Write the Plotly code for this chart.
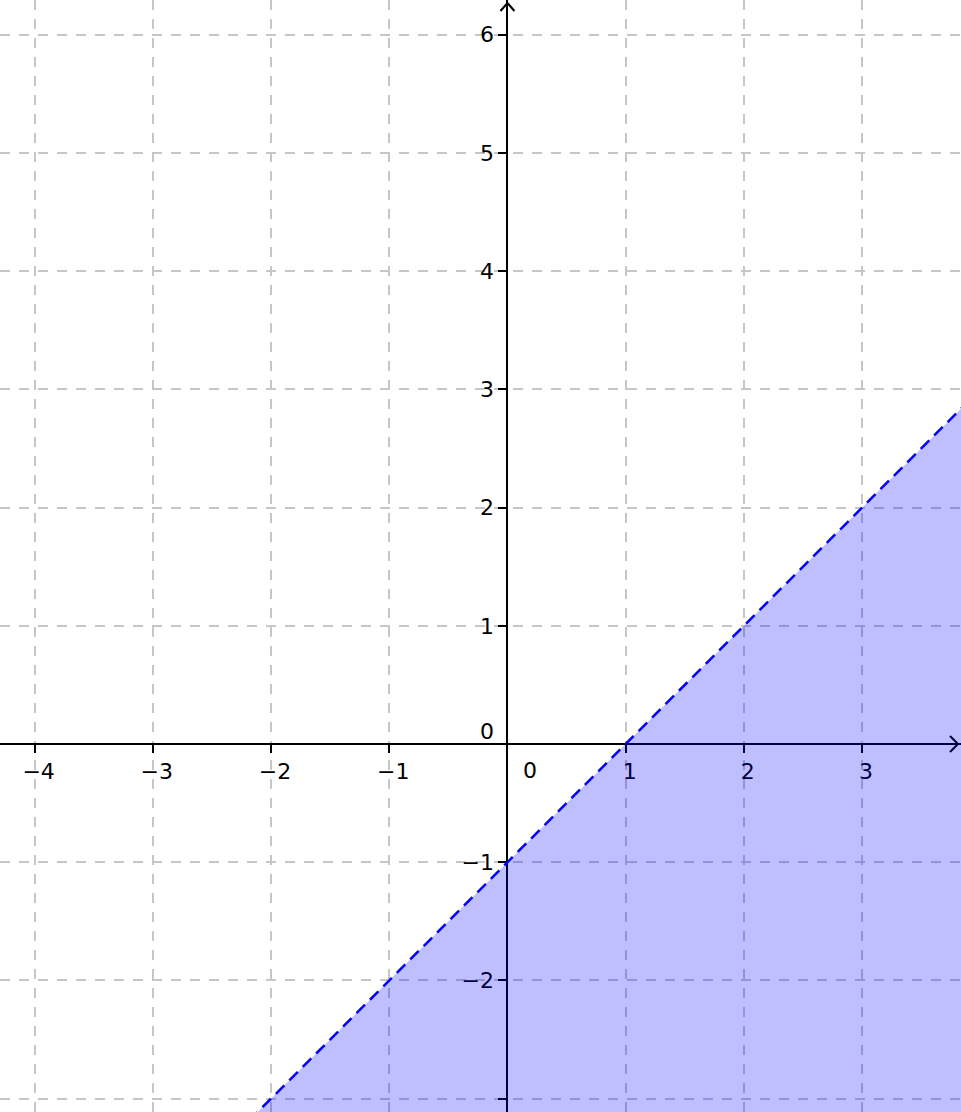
import plotly.graph_objects as go

# view window (units)
x_range = [-4.293, 3.837]
y_range = [-3.113, 6.294]

# tick values / labels (0 handled separately, GeoGebra style;
# the -3 label sits at the bottom edge and is not shown)
x_ticks = [-4, -3, -2, -1, 1, 2, 3]
x_labels = ["−4", "−3", "−2", "−1", "1", "2", "3"]
y_ticks = [-3, -2, -1, 1, 2, 3, 4, 5, 6]
y_labels = ["", "−2", "−1", "1", "2", "3", "4", "5", "6"]

# boundary line y = x - 1 (dashed) and the shaded half-plane below it
line_x = [-2.3, 4.0]
line_y = [-3.3, 3.0]
floor_y = [-3.5, -3.5]

fnt = dict(family='DejaVu Sans', size=22, color='black')

fig = go.Figure()

# lower edge of the shaded region (invisible)
fig.add_trace(go.Scatter(
    x=line_x, y=floor_y, mode='lines',
    line=dict(width=0, color='rgba(0,0,0,0)'),
    showlegend=False, hoverinfo='skip'))

fig.add_trace(go.Scatter(
    x=line_x, y=line_y, mode='lines',
    line=dict(color='#0000FF', width=2.5, dash='12px,7px'),
    fill='tonexty', fillcolor='rgba(0,0,255,0.25)',
    showlegend=False, hoverinfo='skip'))

x_pos = (0 - y_range[0]) / (y_range[1] - y_range[0])
y_pos = (0 - x_range[0]) / (x_range[1] - x_range[0])

axis_common = dict(
    showgrid=True, gridcolor='#C6C6C6', gridwidth=2, griddash='10px,9px',
    zeroline=False, showline=True, linecolor='black', linewidth=2,
    ticks='outside', ticklen=8, tickwidth=2, tickcolor='black',
    layer='below traces', fixedrange=True, tickfont=fnt,
)

fig.update_xaxes(range=x_range, tickmode='array', tickvals=x_ticks,
                 ticktext=x_labels, anchor='free', position=x_pos,
                 side='bottom', ticklabelshift=4, **axis_common)
fig.update_yaxes(range=y_range, tickmode='array', tickvals=y_ticks,
                 ticktext=y_labels, anchor='free', position=y_pos,
                 side='left', **axis_common)

# origin labels
fig.add_annotation(x=0, y=0, text="0", showarrow=False, xshift=-20, yshift=13,
                   font=fnt)
fig.add_annotation(x=0, y=0, text="0", showarrow=False, xshift=23, yshift=-26,
                   font=fnt)

# open arrow heads at the axis ends
fig.add_shape(type='path', xref='paper', yref='y', xsizemode='pixel',
              ysizemode='pixel', xanchor=1, yanchor=0,
              path='M -11,8 L -3,0 L -11,-8', layer='below',
              line=dict(color='black', width=2))
fig.add_shape(type='path', xref='x', yref='paper', xsizemode='pixel',
              ysizemode='pixel', xanchor=0, yanchor=1,
              path='M -7,-11 L 0,-3 L 7,-11', layer='below',
              line=dict(color='black', width=2))

fig.update_layout(
    width=961, height=1112,
    margin=dict(l=0, r=0, t=0, b=0),
    plot_bgcolor='white', paper_bgcolor='white',
    showlegend=False,
)

# drop the browser's default body margin so the figure sits at 0,0
fig.write_html("out.html", config={'displayModeBar': False},
               post_script="document.body.style.margin='0';document.body.style.overflow='hidden';")
